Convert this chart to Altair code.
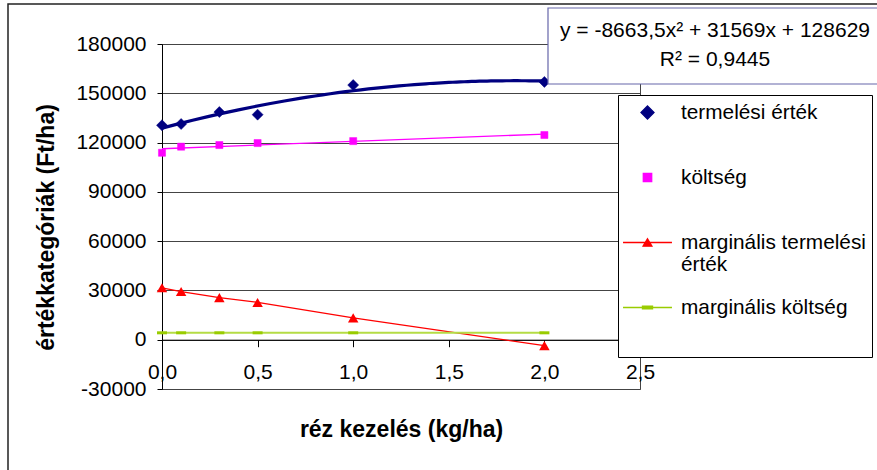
import altair as alt
import pandas as pd

# Copper dose (kg/ha) and the four value series (Ft/ha)
dose = [0.0, 0.1, 0.3, 0.5, 1.0, 2.0]
termelesi_ertek = [130500, 131300, 138600, 137000, 155000, 156900]
koltseg = [113800, 117500, 118500, 119700, 120900, 124600]
marg_termelesi = [31600, 29300, 25600, 22700, 13300, -3600]
marg_koltseg = [4200, 4200, 4200, 4200, 4200, 4200]

series_names = ["termelési érték", "költség", "marginális termelési érték", "marginális költség"]
series_colors = ["#000080", "#FF00FF", "#FF0000", "#99CC00"]
# legend symbols: marker only, or line with marker through it
series_symbols = [
    "M0,-0.62L0.62,0L0,0.62L-0.62,0Z",
    "M-0.4,-0.4H0.4V0.4H-0.4Z",
    "M-2.33,0H2.33M0,-0.35L0.42,0.35L-0.42,0.35Z",
    "M-2.33,0H2.33M-0.48,-0.14H0.48V0.14H-0.48Z",
]

x_ticks = [0, 0.5, 1.0, 1.5, 2.0, 2.5]
y_ticks = [-30000, 0, 30000, 60000, 90000, 120000, 150000, 180000]
trend_label = ["y = -8663,5x² + 31569x + 128629", "R² = 0,9445"]

FONT = "Liberation Sans"

rows = []
for name, vals in zip(series_names, [termelesi_ertek, koltseg, marg_termelesi, marg_koltseg]):
    for d, v in zip(dose, vals):
        rows.append({"series": name, "x": d, "value": v})
df = pd.DataFrame(rows)

X = alt.X(
    "x:Q",
    scale=alt.Scale(domain=[0, 2.5], nice=False, zero=False),
    axis=alt.Axis(
        values=x_ticks,
        offset=-49.3,
        grid=False,
        labelExpr="replace(format(datum.value, '.1f'), '.', ',')",
        labelFont=FONT, labelFontSize=21, labelColor="black",
        labelPadding=15, tickSize=7, tickColor="black",
        domainColor="black", labelFlush=False,
        title="réz kezelés (kg/ha)",
        titleFont=FONT, titleFontSize=23, titleFontWeight="bold", titleColor="black",
        titlePadding=36,
    ),
)
Y = alt.Y(
    "value:Q",
    scale=alt.Scale(domain=[-30000, 180000], nice=False, zero=False),
    axis=alt.Axis(
        values=y_ticks,
        labelExpr="'' + datum.value",
        labelFont=FONT, labelFontSize=21, labelColor="black",
        labelPadding=11, tickSize=5, tickColor="black",
        domainColor="black", gridColor="#444444", gridOpacity=1,
        title="értékkategóriák (Ft/ha)",
        titleFont=FONT, titleFontSize=23, titleFontWeight="bold", titleColor="black",
        titleAngle=-90, titleX=-116, titleY=183, titleBaseline="middle", titleAlign="center",
    ),
)

legend = alt.Legend(
    title=" ", titleOrient="bottom", titleFontSize=20, titlePadding=14,
    orient="none", legendX=456, legendY=51,
    fillColor="white", strokeColor="black", padding=6,
    symbolSize=441, symbolStrokeWidth=1.3, symbolOpacity=1, symbolOffset=12,
    labelFont=FONT, labelFontSize=20.8, labelColor="black", labelOffset=22,
    labelLimit=190, rowPadding=20, gridAlign="all", columns=1,
    labelExpr="length(datum.label) > 20 ? [slice(datum.label, 0, lastindexof(datum.label, ' ')), slice(datum.label, lastindexof(datum.label, ' ') + 1)] : datum.label",
)

base = alt.Chart(df)

# outer chart frame
frame = alt.Chart(pd.DataFrame({"k": [0]})).mark_rect(
    fill="transparent", stroke="#222222", strokeWidth=1.5
).encode(x=alt.value(-154), x2=alt.value(800), y=alt.value(-40), y2=alt.value(500))

color_scale = alt.Scale(domain=series_names, range=series_colors)
scatter = base.transform_filter(
    alt.FieldOneOfPredicate(field="series", oneOf=series_names[:2])
).mark_point(filled=True, size=315, opacity=1, strokeWidth=0.5).encode(
    x=X, y=Y,
    fill=alt.Fill("series:N", scale=color_scale, legend=legend),
    stroke=alt.Stroke("series:N", scale=color_scale, legend=legend),
    shape=alt.Shape("series:N", scale=alt.Scale(domain=series_names, range=series_symbols), legend=legend),
)

trend_prod = base.transform_filter(alt.datum.series == series_names[0]).transform_regression(
    "x", "value", method="poly", order=2
).mark_line(color="#000080", strokeWidth=3.2).encode(x=X, y=Y)

trend_cost = base.transform_filter(alt.datum.series == series_names[1]).transform_regression(
    "x", "value", method="linear"
).mark_line(color="#FF00FF", strokeWidth=1.4).encode(x=X, y=Y)

mp = base.transform_filter(alt.datum.series == series_names[2])
mp_line = mp.mark_line(color="#FF0000", strokeWidth=1.2).encode(x=X, y=Y)
mp_pts = mp.mark_point(filled=True, shape="triangle-up", size=110, color="#FF0000", opacity=1).encode(x=X, y=Y)

mc = base.transform_filter(alt.datum.series == series_names[3])
mc_line = mc.mark_line(color="#B5DC45", strokeWidth=2).encode(x=X, y=Y)
mc_pts = mc.mark_point(filled=True, shape="M-1,-0.3H1V0.3H-1Z", size=100, color="#99CC00", opacity=1).encode(x=X, y=Y)

# trendline equation box
eq_df = pd.DataFrame({"t": [trend_label]})
eq_box = alt.Chart(eq_df).mark_rect(fill="white", stroke="#6666AA", strokeWidth=1.2).encode(
    x=alt.value(386), x2=alt.value(720), y=alt.value(-36), y2=alt.value(40)
)
eq_text = alt.Chart(eq_df).mark_text(
    font=FONT, fontSize=21, color="black", align="center", baseline="top", lineHeight=29
).encode(x=alt.value(553), y=alt.value(-24), text="t")

chart = alt.layer(
    frame, scatter, trend_prod, trend_cost, mp_line, mp_pts, mc_line, mc_pts, eq_box, eq_text
).properties(
    width=478, height=345,
    autosize=alt.AutoSizeParams(type="none"),
    padding={"left": 162, "top": 44, "right": 237, "bottom": 81},
    background="white",
).configure_view(stroke="#444444", strokeWidth=1)

chart.save("out.html", embed_options={"renderer": "svg", "actions": False})
